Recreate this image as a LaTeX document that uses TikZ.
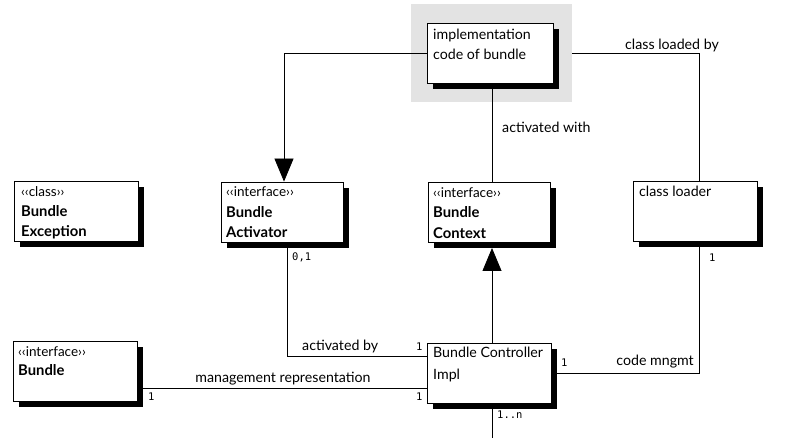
\documentclass[tikz,border=0pt]{standalone}
\usepackage{fontspec}
\setmainfont{Lato}
\newfontfamily\monofont{DejaVu Sans Mono}
\usetikzlibrary{arrows.meta,shadows,calc}
\tikzset{
  umlbox/.style={draw, fill=white, line width=0.8pt, inner sep=0pt, minimum height=60pt,
    drop shadow={shadow xshift=6pt, shadow yshift=-6pt, fill=black, opacity=1}},
  txt/.style={anchor=base west, inner sep=0pt, font=\fontsize{14.2}{16}\selectfont},
  btxt/.style={anchor=base west, inner sep=0pt, font=\fontsize{14.8}{16}\selectfont\bfseries},
  stxt/.style={anchor=base west, inner sep=0pt, font=\fontsize{13.5}{15}\selectfont},
  mult/.style={inner sep=0pt, anchor=base west, font=\monofont\fontsize{10.5}{12}\selectfont},
  conn/.style={line width=0.8pt},
  tri/.style={-{Triangle[length=23pt,width=19pt]}}
}
\begin{document}
\begin{tikzpicture}[x=1pt,y=-1pt]
\useasboundingbox (0,0) rectangle (793,438);
% gray background
\fill[black!11] (411,4) rectangle (572,102);
\coordinate (grayE) at (572,53);
% boxes
\node[umlbox, minimum width=126pt] (impl) at (490,53) {};
\node[umlbox, minimum width=124pt] (exc) at (76,211) {};
\node[umlbox, minimum width=122pt] (act) at (282,212) {};
\node[umlbox, minimum width=122pt] (ctx) at (489,212.5) {};
\node[umlbox, minimum width=124pt] (cl) at (695,211.5) {};
\node[umlbox, minimum width=124pt] (bun) at (75,371) {};
\node[umlbox, minimum width=124pt] (ctrl) at (489,373) {};
% box texts
\node[txt] (implT1) at (433,40) {implementation};
\node[txt] (implT2) at (433,60) {code of bundle};
\node[stxt] (excS) at (21,197) {‹‹class››};
\node[btxt] (excT1) at (21,217) {Bundle};
\node[btxt] (excT2) at (21,237) {Exception};
\node[stxt] (actS) at (226,197) {‹‹interface››};
\node[btxt] (actT1) at (226,218) {Bundle};
\node[btxt] (actT2) at (226,238) {Activator};
\node[stxt] (ctxS) at (433,198) {‹‹interface››};
\node[btxt] (ctxT1) at (433,218) {Bundle};
\node[btxt] (ctxT2) at (433,239) {Context};
\node[txt] (clT) at (639,197) {class loader};
\node[stxt] (bunS) at (18,357) {‹‹interface››};
\node[btxt] (bunT1) at (18,376) {Bundle};
\node[txt] (ctrlT1) at (433,358) {Bundle Controller};
\node[txt] (ctrlT2) at (433,380) {Impl};
% connectors
\coordinate (a1) at (284,53);
\draw[conn, tri] (impl.west) -- (a1) -- (act.north -| a1);
\coordinate (c1) at (699,53);
\draw[conn] (grayE) -- (c1) -- (cl.north -| c1);
\coordinate (x1) at (492,88);
\draw[conn] (x1) -- (ctx.north -| x1);
\coordinate (x2) at (492,248);
\draw[conn, tri] (ctrl.north -| x2) -- (x2);
\coordinate (b1) at (287,356);
\draw[conn] (act.south -| b1) -- (b1) -- (ctrl.west |- b1);
\coordinate (m1) at (143,388);
\draw[conn] (m1) -- (ctrl.west |- m1);
\coordinate (d1) at (699,373);
\coordinate (d2) at (557,373);
\draw[conn] (cl.south -| d1) -- (d1) -- (d2);
\coordinate (e1) at (492,438);
\draw[conn] (ctrl.south -| e1) -- (e1);
% labels
\node[txt] (l1) at (625,50) {class loaded by};
\node[txt] (l2) at (502,133) {activated with};
\node[txt] (l3) at (302,351) {activated by};
\node[txt, anchor=base] (l4) at (283,383) {management representation};
\node[txt, anchor=base east] (l5) at (694,366) {code mngmt};
\node[mult] (n1) at (292,261) {0,1};
\node[mult] (n2) at (709,262) {1};
\node[mult] (n3) at (416,351) {1};
\node[mult] (n4) at (148,401) {1};
\node[mult] (n5) at (416,400) {1};
\node[mult] (n6) at (561,367) {1};
\node[mult] (n7) at (497,418) {1..n};
\end{tikzpicture}
\end{document}
